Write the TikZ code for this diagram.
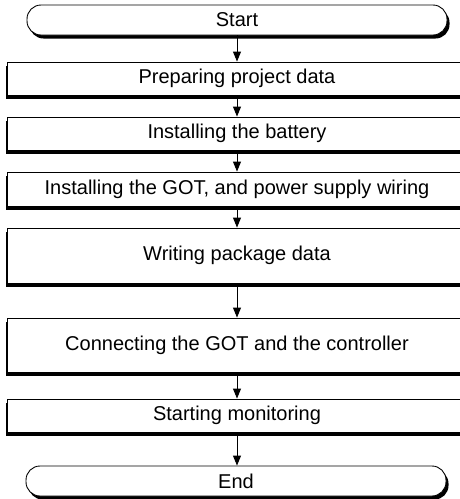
\documentclass[tikz,border=0pt]{standalone}
\usepackage{fontspec}
\setmainfont{Liberation Sans}
\usetikzlibrary{arrows.meta,shadows}
\begin{document}
\begin{tikzpicture}[x=1pt,y=-1pt,
  txt/.style={font=\fontsize{20}{22}\selectfont},
  stepbox/.style={txt, draw=black, line width=0.9pt, fill=white, minimum width=460pt, inner sep=0pt,
    drop shadow={shadow xshift=-1.5pt, shadow yshift=-3.5pt, opacity=1, fill=black}},
  termbox/.style={txt, draw=black, line width=0.9pt, fill=white, minimum width=420pt, minimum height=30pt,
    inner sep=0pt, rounded corners=14pt,
    drop shadow={shadow xshift=2.5pt, shadow yshift=-3.5pt, opacity=1, fill=black}},
  flow/.style={-{Triangle[width=8pt,length=10pt]}, line width=0.9pt},
  ]
\useasboundingbox (0,0) rectangle (460,499);
\fill[white] (0,0) rectangle (460,499);
\begin{scope}
\clip (0,0) rectangle (460,499);
\node[termbox] (start) at (237,20) {Start};
\node[stepbox, minimum height=33pt] (r1) at (237,78.5) {Preparing project data};
\node[stepbox, minimum height=33pt] (r2) at (237,133.5) {Installing the battery};
\node[stepbox, minimum height=34pt] (r3) at (237,189) {Installing the GOT, and power supply wiring};
\node[stepbox, minimum height=55pt] (r4) at (237,255.5) {Writing package data};
\node[stepbox, minimum height=54pt] (r5) at (237,345) {Connecting the GOT and the controller};
\node[stepbox, minimum height=33pt] (r6) at (237,415.5) {Starting monitoring};
\node[termbox] (end) at (236,481) {End};
\draw[flow] (start.south) -- (r1.north);
\draw[flow] (r1.south) -- (r2.north);
\draw[flow] (r2.south) -- (r3.north);
\draw[flow] (r3.south) -- (r4.north);
\draw[flow] (r4.south) -- (r5.north);
\draw[flow] (r5.south) -- (r6.north);
\draw[flow] (r6.south) -- (end.north -| r6.south);
\end{scope}
\end{tikzpicture}
\end{document}
